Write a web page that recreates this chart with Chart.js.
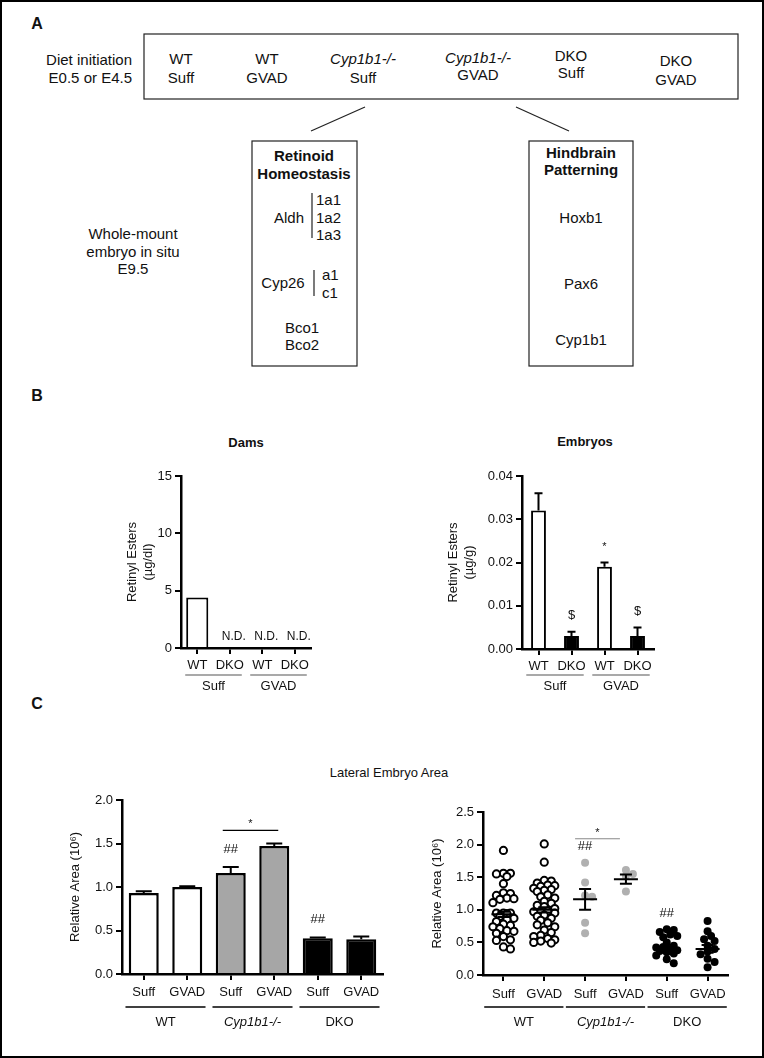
<!DOCTYPE html>
<html>
<head>
<meta charset="utf-8">
<title>Retinoid figure</title>
<script src="https://cdn.jsdelivr.net/npm/chart.js@4.4.1/dist/chart.umd.min.js"></script>
<style>
  html, body { margin: 0; padding: 0; background: #fff; }
  #page { position: relative; width: 764px; height: 1058px; overflow: hidden;
          font-family: 'Liberation Sans', Arial, sans-serif; color: #111; }
  #frame { position: absolute; left: 0; top: 0; width: 764px; height: 1058px;
           box-sizing: border-box; border: 2px solid #000; pointer-events: none; }
  canvas { position: absolute; }
  .t { position: absolute; transform: translate(-50%, -50%); white-space: nowrap; }
  .panel { font-size: 16px; font-weight: bold; }
  .ctitle { font-size: 13px; font-weight: bold; }
</style>
</head>
<body>
<div id="page">
  <svg width="764" height="380" style="position:absolute;left:0;top:0"
       font-family="Liberation Sans, Arial, sans-serif" font-size="15" fill="#111">
    <g stroke="#222" stroke-width="1.2" fill="none">
      <rect x="144" y="34" width="594" height="65"/>
      <line x1="365" y1="107" x2="311" y2="131"/>
      <line x1="516" y1="107" x2="569" y2="131"/>
      <rect x="252" y="141" width="105" height="225"/>
      <rect x="529" y="141" width="104" height="225"/>
      <line x1="312" y1="193" x2="312" y2="238"/>
      <line x1="314" y1="270" x2="314" y2="296"/>
    </g>
    <g dominant-baseline="central">
      <text x="132" y="59" text-anchor="end">Diet initiation</text>
      <text x="132" y="77" text-anchor="end">E0.5 or E4.5</text>

      <g text-anchor="middle">
        <text x="181" y="58">WT</text><text x="181" y="77">Suff</text>
        <text x="267" y="58">WT</text><text x="267" y="77">GVAD</text>
        <text x="363" y="58" font-style="italic">Cyp1b1-/-</text><text x="363" y="77">Suff</text>
        <text x="478" y="57" font-style="italic">Cyp1b1-/-</text><text x="478" y="74">GVAD</text>
        <text x="571" y="55">DKO</text><text x="571" y="72">Suff</text>
        <text x="676" y="60">DKO</text><text x="676" y="79">GVAD</text>

        <text x="133" y="233">Whole-mount</text>
        <text x="133" y="251">embryo in situ</text>
        <text x="133" y="268">E9.5</text>

        <text x="304" y="155" font-weight="bold">Retinoid</text>
        <text x="304" y="173" font-weight="bold">Homeostasis</text>
        <text x="289" y="217">Aldh</text>
        <text x="283" y="282">Cyp26</text>
        <text x="302" y="327">Bco1</text>
        <text x="302" y="344">Bco2</text>

        <text x="581" y="152" font-weight="bold">Hindbrain</text>
        <text x="581" y="169" font-weight="bold">Patterning</text>
        <text x="581" y="217">Hoxb1</text>
        <text x="581" y="283">Pax6</text>
        <text x="581" y="339">Cyp1b1</text>
      </g>
      <text x="316" y="199">1a1</text>
      <text x="316" y="217">1a2</text>
      <text x="316" y="234">1a3</text>
      <text x="322" y="274">a1</text>
      <text x="322" y="292">c1</text>
    </g>
  </svg>

  <div class="t panel" style="left:37px;top:24px">A</div>
  <div class="t panel" style="left:37px;top:396px">B</div>
  <div class="t panel" style="left:37px;top:704px">C</div>
  <div class="t ctitle" style="left:246px;top:442px">Dams</div>
  <div class="t ctitle" style="left:585px;top:441px">Embryos</div>
  <div class="t" style="left:389px;top:772px;font-size:13px">Lateral Embryo Area</div>

  <canvas id="dams" width="210" height="240" style="left:115px;top:460px"></canvas>
  <canvas id="embryos" width="230" height="240" style="left:440px;top:460px"></canvas>
  <canvas id="areaBars" width="335" height="250" style="left:60px;top:785px"></canvas>
  <canvas id="areaDots" width="320" height="240" style="left:422px;top:795px"></canvas>
  <div id="frame"></div>
</div>

<script>
// ---- panel B: retinyl esters ----
const retinylLabels = ['WT', 'DKO', 'WT', 'DKO'];
const retinylGroups = ['Suff', 'GVAD'];
const damsValues = [4.4, null, null, null];          // null = N.D.
const embryoValues = [0.032, 0.003, 0.019, 0.003];
const embryoErrors = [0.004, 0.001, 0.001, 0.002];
const embryoMarks = ['', '$', '*', '$'];

// ---- panel C: lateral embryo area ----
const areaLabels = ['Suff', 'GVAD', 'Suff', 'GVAD', 'Suff', 'GVAD'];
const areaGroups = ['WT', 'Cyp1b1-/-', 'DKO'];
const areaMeans = [0.93, 1.00, 1.16, 1.47, 0.41, 0.40];
const areaBarErrors = [0.02, 0.01, 0.07, 0.03, 0.01, 0.03];
const areaDotSems = [0.04, 0.04, 0.16, 0.07, 0.03, 0.06];
const areaMarks = ['', '', '##', '', '##', ''];
const barSigLevel = 1.65;
const dotSigLevel = 2.09;

const wtSuffArea = [1.91, 1.56, 1.55, 1.51, 1.56, 1.40, 1.26, 1.25, 1.22, 1.18, 1.17, 1.16, 1.11,
  0.95, 0.95, 0.94, 0.95, 0.90, 0.87, 0.85, 0.82, 0.78, 0.76, 0.74, 0.71, 0.68, 0.67, 0.64,
  0.59, 0.54, 0.53, 0.43, 0.40];
const wtGvadArea = [2.01, 1.73, 1.45, 1.44, 1.41, 1.38, 1.37, 1.36, 1.33, 1.31, 1.30, 1.28, 1.23,
  1.20, 1.18, 1.13, 1.10, 1.07, 1.05, 1.02, 0.98, 0.97, 0.97, 0.95, 0.92, 0.90, 0.87, 0.84,
  0.80, 0.77, 0.74, 0.69, 0.65, 0.61, 0.59, 0.56, 0.54, 0.52, 0.50, 0.49];
const cypSuffArea = [1.72, 1.42, 1.22, 1.20, 0.80, 0.64];
const cypGvadArea = [1.61, 1.55, 1.52, 1.28];
const dkoSuffArea = [0.70, 0.69, 0.66, 0.62, 0.60, 0.58, 0.50, 0.45, 0.43, 0.42, 0.40, 0.38,
  0.37, 0.35, 0.33, 0.30, 0.24, 0.18];
const dkoGvadArea = [0.83, 0.67, 0.60, 0.55, 0.52, 0.45, 0.40, 0.36, 0.32, 0.25, 0.20, 0.12];

Chart.defaults.font.family = "'Liberation Sans', Arial, sans-serif";
Chart.defaults.font.size = 13;
Chart.defaults.color = '#111';

// draws error bars, N.D., marks, significance bar and group underlines
const annotate = {
  id: 'annotate',
  afterDatasetsDraw(chart, args, o) {
    const ctx = chart.ctx;
    const xs = chart.scales.x, ys = chart.scales.y;
    const at = i => xs.getPixelForTick(i);
    const step = at(1) - at(0);
    const font = (s, st) => (st || '') + ' ' + s + "px 'Liberation Sans', Arial, sans-serif";
    ctx.save();
    ctx.strokeStyle = '#000';
    ctx.fillStyle = '#111';
    ctx.textAlign = 'center';
    ctx.textBaseline = 'middle';

    if (o.errors) {
      ctx.lineWidth = 2;
      o.errors.forEach((e, i) => {
        const v = o.values[i];
        if (v == null) return;
        const x = at(i), y0 = ys.getPixelForValue(v), y1 = ys.getPixelForValue(v + e);
        ctx.beginPath();
        ctx.moveTo(x, y0); ctx.lineTo(x, y1);
        ctx.moveTo(x - o.cap, y1); ctx.lineTo(x + o.cap, y1);
        ctx.stroke();
      });
    }

    if (o.means) {
      ctx.lineWidth = 2;
      o.means.forEach((m, i) => {
        const x = at(i), s = o.sems[i];
        const ym = ys.getPixelForValue(m), yl = ys.getPixelForValue(m - s), yh = ys.getPixelForValue(m + s);
        ctx.beginPath();
        ctx.moveTo(x - 12, ym); ctx.lineTo(x + 12, ym);
        ctx.moveTo(x - 6, yl); ctx.lineTo(x + 6, yl);
        ctx.moveTo(x - 6, yh); ctx.lineTo(x + 6, yh);
        ctx.moveTo(x, yl); ctx.lineTo(x, yh);
        ctx.stroke();
      });
    }

    if (o.nd) {
      ctx.font = font(12);
      o.values.forEach((v, i) => {
        if (v == null) ctx.fillText('N.D.', at(i) + 4, ys.getPixelForValue(0) - 11);
      });
    }

    if (o.marks) {
      o.marks.forEach((m, i) => {
        if (!m) return;
        ctx.font = font(m === '*' ? 11 : 13);
        ctx.fillText(m, at(i), ys.getPixelForValue(o.markTops[i]) - o.markGap);
      });
    }

    if (o.sig) {
      const s = o.sig;
      const y = ys.getPixelForValue(s.level);
      const x1 = at(s.from) - s.insetL, x2 = at(s.to) + s.insetR;
      ctx.strokeStyle = s.color;
      ctx.lineWidth = 1.2;
      ctx.beginPath(); ctx.moveTo(x1, y); ctx.lineTo(x2, y); ctx.stroke();
      ctx.font = font(11);
      ctx.fillText('*', (x1 + x2) / 2, y - 6);
    }

    if (o.groups) {
      const base = ys.getPixelForValue(0);
      const half = o.groupHalf * step;
      o.groups.forEach((g, k) => {
        const a = at(k * 2) - half, b = at(k * 2 + 1) + half;
        ctx.strokeStyle = o.groupColor;
        ctx.lineWidth = 1.3;
        ctx.beginPath();
        ctx.moveTo(a, base + o.lineDy); ctx.lineTo(b, base + o.lineDy);
        ctx.stroke();
        ctx.font = font(13, o.italic && o.italic[k] ? 'italic' : '');
        ctx.fillText(g, (a + b) / 2, base + o.labelDy);
      });
    }
    ctx.restore();
  }
};

function yAxis(max, step, digits, title, titlePad, width) {
  return {
    min: 0, max: max,
    ticks: { stepSize: step, padding: 3, color: '#111', callback: v => Number(v).toFixed(digits) },
    grid: { drawOnChartArea: false, color: '#000', lineWidth: 2, tickLength: 6 },
    border: { color: '#000', width: 2.5 },
    title: { display: true, text: title, color: '#111',
             font: { size: 13, lineHeight: 1.3 }, padding: { top: titlePad, bottom: 0 } },
    afterFit: s => { s.width = width; }
  };
}

function xAxis(height, pad, extra) {
  return Object.assign({
    offset: true,
    ticks: { padding: pad, color: '#111', maxRotation: 0, autoSkip: false },
    grid: { offset: false, drawOnChartArea: false, color: '#000', lineWidth: 2, tickLength: 6 },
    border: { color: '#000', width: 2.5 },
    afterFit: s => { s.height = height; }
  }, extra || {});
}

function baseOptions(padding) {
  return {
    responsive: false,
    animation: false,
    devicePixelRatio: 1,
    layout: { padding: padding },
    plugins: { legend: { display: false }, tooltip: { enabled: false } }
  };
}

// ---- Dams ----
const damsOpts = baseOptions({ left: 0, top: 16, right: 14, bottom: 0 });
damsOpts.scales = { x: xAxis(52, 4), y: yAxis(15, 5, 0, ['Retinyl Esters', '(µg/dl)'], 8.5, 66) };
damsOpts.plugins.annotate = {
  values: damsValues, nd: true,
  groups: retinylGroups, groupHalf: 0.37, groupColor: '#8c8c8c', lineDy: 27, labelDy: 38
};
new Chart(document.getElementById('dams'), {
  type: 'bar',
  data: {
    labels: retinylLabels,
    datasets: [{ data: damsValues, backgroundColor: '#fff', borderColor: '#000', borderWidth: 2,
                 categoryPercentage: 1, barPercentage: 0.68 }]
  },
  options: damsOpts,
  plugins: [annotate]
});

// ---- Embryos ----
const embOpts = baseOptions({ left: 0, top: 16, right: 16, bottom: 0 });
embOpts.scales = { x: xAxis(51, 4), y: yAxis(0.04, 0.01, 2, ['Retinyl Esters', '(µg/g)'], 4.5, 82) };
embOpts.plugins.annotate = {
  values: embryoValues, errors: embryoErrors, cap: 4,
  marks: embryoMarks, markTops: embryoValues.map((v, i) => v + embryoErrors[i]), markGap: 16,
  groups: retinylGroups, groupHalf: 0.37, groupColor: '#8c8c8c', lineDy: 26, labelDy: 37
};
new Chart(document.getElementById('embryos'), {
  type: 'bar',
  data: {
    labels: retinylLabels,
    datasets: [{ data: embryoValues, backgroundColor: ['#fff', '#000', '#fff', '#000'],
                 borderColor: '#000', borderWidth: 2, categoryPercentage: 1, barPercentage: 0.45 }]
  },
  options: embOpts,
  plugins: [annotate]
});

// ---- Area bars ----
const barOpts = baseOptions({ left: 0, top: 15, right: 12, bottom: 0 });
barOpts.scales = { x: xAxis(61, 5), y: yAxis(2.0, 0.5, 1, 'Relative Area (10⁶)', 7, 62) };
barOpts.plugins.annotate = {
  values: areaMeans, errors: areaBarErrors, cap: 8,
  marks: areaMarks, markTops: areaMeans.map((v, i) => v + areaBarErrors[i]), markGap: 18,
  sig: { from: 2, to: 3, level: barSigLevel, insetL: 8, insetR: 4, color: '#000' },
  groups: areaGroups, italic: [false, true, false], groupHalf: 0.42, groupColor: '#000',
  lineDy: 33, labelDy: 48
};
new Chart(document.getElementById('areaBars'), {
  type: 'bar',
  data: {
    labels: areaLabels,
    datasets: [{ data: areaMeans,
                 backgroundColor: ['#fff', '#fff', '#a6a6a6', '#a6a6a6', '#000', '#000'],
                 borderColor: '#000', borderWidth: 2.5, categoryPercentage: 1, barPercentage: 0.69 }]
  },
  options: barOpts,
  plugins: [annotate]
});

// ---- Area dot plot ----
// simple beeswarm so overlapping dots spread sideways (pixel estimates of the plot scale)
const PX_X = 40.8, PX_Y = 65.2, MIN_GAP = 5.5;
function swarm(values, center) {
  const placed = [];
  return values.slice().sort((a, b) => b - a).map(v => {
    const py = v * PX_Y;
    let best = 0, bestDist = -1;
    for (let k = 0; k < 7; k++) {
      const cand = (k % 2 ? 1 : -1) * Math.ceil(k / 2) * 3.5;
      const d = placed.reduce((m, p) => Math.min(m, Math.hypot(p.px - cand, p.py - py)), Infinity);
      if (d >= MIN_GAP) { best = cand; break; }
      if (d > bestDist) { bestDist = d; best = cand; }
    }
    placed.push({ px: best, py: py });
    return { x: center + best / PX_X, y: v };
  });
}

const dotGroups = [wtSuffArea, wtGvadArea, cypSuffArea, cypGvadArea, dkoSuffArea, dkoGvadArea];
const dotFill = ['#fff', '#fff', '#b0b0b0', '#b0b0b0', '#000', '#000'];

const dotOpts = baseOptions({ left: 0, top: 17, right: 14, bottom: 0 });
dotOpts.scales = {
  x: xAxis(60, 6, {
    type: 'linear', offset: false, min: 0.5, max: 6.5,
    afterBuildTicks: s => { s.ticks = areaLabels.map((_, i) => ({ value: i + 1 })); },
    ticks: { padding: 6, color: '#111', maxRotation: 0, autoSkip: false,
             callback: (v, i) => areaLabels[i] }
  }),
  y: yAxis(2.5, 0.5, 1, 'Relative Area (10⁶)', 7, 61)
};
dotOpts.plugins.annotate = {
  means: areaMeans, sems: areaDotSems,
  marks: areaMarks, markTops: dotGroups.map(g => Math.max(...g)), markGap: 16,
  sig: { from: 2, to: 3, level: dotSigLevel, insetL: 10, insetR: -6, color: '#888' },
  groups: areaGroups, italic: [false, true, false], groupHalf: 0.47, groupColor: '#000',
  lineDy: 32, labelDy: 47
};
new Chart(document.getElementById('areaDots'), {
  type: 'scatter',
  data: {
    datasets: dotGroups.map((g, i) => ({
      data: swarm(g, i + 1),
      backgroundColor: dotFill[i],
      borderColor: i < 2 ? '#000' : dotFill[i],
      borderWidth: i < 2 ? 2 : 0,
      pointRadius: i < 2 ? 3.6 : 4
    }))
  },
  options: dotOpts,
  plugins: [annotate]
});
</script>
</body>
</html>
